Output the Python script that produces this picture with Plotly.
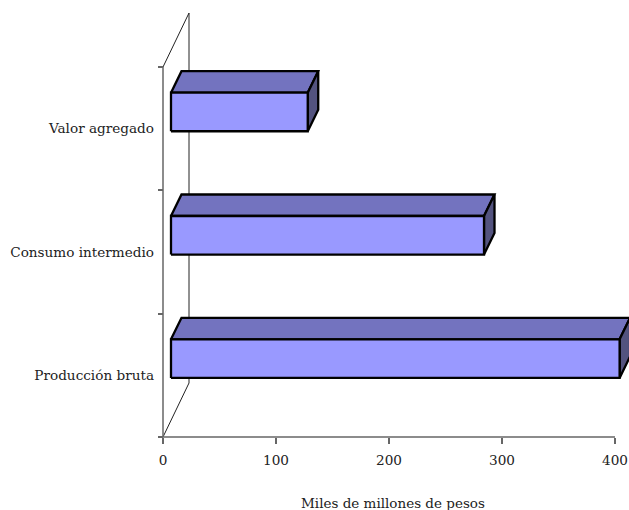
import plotly.graph_objects as go

categories = ["Producción bruta", "Consumo intermedio", "Valor agregado"]
values = [397, 277, 121]
x_ticks = [0, 100, 200, 300, 400]
x_title = "Miles de millones de pesos"

W, H = 629, 510
X0_PX, X400_PX = 163, 615     # pixel of x=0, x=400
Y_BOTTOM_PX, Y_TOP_PX = 437, 67  # pixel of the category-axis ends
PX_X = (X400_PX - X0_PX) / 400
PX_Y = (Y_BOTTOM_PX - Y_TOP_PX) / 3
n = len(categories)

# 3-D projection expressed in data units
WALL_DX, WALL_DY = 26 / PX_X, 54 / PX_Y
BAR_DX, BAR_DY = 10.5 / PX_X, 21.5 / PX_Y
OFF_X, OFF_Y = 8 / PX_X, 16.7 / PX_Y
HALF = 19.3 / PX_Y

x_range = [-X0_PX / PX_X, (W - X0_PX) / PX_X]
y_low = -0.5 - (H - Y_BOTTOM_PX) / PX_Y
y_high = -0.5 + Y_BOTTOM_PX / PX_Y

FRONT, TOP, SIDE = "#9999FF", "#7373BF", "#53537F"
AXIS = "#666666"
WALL = "#222222"
FONT = "DejaVu Serif"
TEXT = "#222222"

fig = go.Figure()
def line(xs, ys, color, w=1):
    fig.add_trace(go.Scatter(x=xs, y=ys, mode="lines", line=dict(color=color, width=w),
                             hoverinfo="skip", showlegend=False))
def poly(xs, ys, fill):
    fig.add_trace(go.Scatter(x=xs + xs[:1], y=ys + ys[:1], mode="lines", fill="toself", fillcolor=fill,
                             line=dict(color="black", width=2.3, shape="linear"),
                             hoverinfo="skip", showlegend=False))

yb, yt = -0.5, n - 0.5
# walls
line([0, WALL_DX, WALL_DX], [yb, yb + WALL_DY, yt + WALL_DY], WALL)
line([0, WALL_DX], [yt, yt + WALL_DY], WALL)
# axes
line([0, 400], [yb, yb], AXIS, 1.5)
line([0, 0], [yb, yt], AXIS, 1.5)

for i, v in enumerate(values):
    x1, x2 = OFF_X, OFF_X + v * 1.0
    y1, y2 = i + OFF_Y - HALF, i + OFF_Y + HALF
    poly([x1, x1 + BAR_DX, x2 + BAR_DX, x2], [y2, y2 + BAR_DY, y2 + BAR_DY, y2], TOP)
    poly([x2, x2 + BAR_DX, x2 + BAR_DX, x2], [y1, y1 + BAR_DY, y2 + BAR_DY, y2], SIDE)
    poly([x1, x2, x2, x1], [y1, y1, y2, y2], FRONT)

fig.update_layout(
    width=W, height=H, margin=dict(l=0, r=0, t=0, b=0),
    paper_bgcolor="white", plot_bgcolor="white", showlegend=False,
    font=dict(family=FONT, size=13.6, color=TEXT),
    xaxis=dict(range=x_range, domain=[0, 1], anchor="free", position=(H - Y_BOTTOM_PX) / H,
               tickmode="array", tickvals=x_ticks, ticktext=[str(t) for t in x_ticks],
               ticks="outside", ticklen=6, tickcolor=AXIS, tickwidth=1.5, showgrid=False,
               zeroline=False, showline=False, ticklabelstandoff=5, tickfont=dict(family=FONT, size=13.6)),
    yaxis=dict(range=[y_low, y_high], domain=[0, 1], anchor="free", position=X0_PX / W,
               tickmode="array", tickvals=list(range(n)), ticktext=categories,
               ticks="", showgrid=False, zeroline=False, showline=False, ticklabelstandoff=9,
               tickfont=dict(family=FONT, size=13.6),
               minor=dict(tickmode="array", tickvals=[i - 0.5 for i in range(n + 1)], ticks="outside",
                          ticklen=5, tickcolor=AXIS, tickwidth=1.5, showgrid=False)),
    annotations=[dict(text=x_title, xref="paper", yref="paper", x=392.5 / W, y=(H - 503) / H,
                      xanchor="center", yanchor="middle", showarrow=False,
                      font=dict(family=FONT, size=13.5))],
)
fig.write_html("out.html", config={"displayModeBar": False},
               post_script="document.body.style.margin='0';")
